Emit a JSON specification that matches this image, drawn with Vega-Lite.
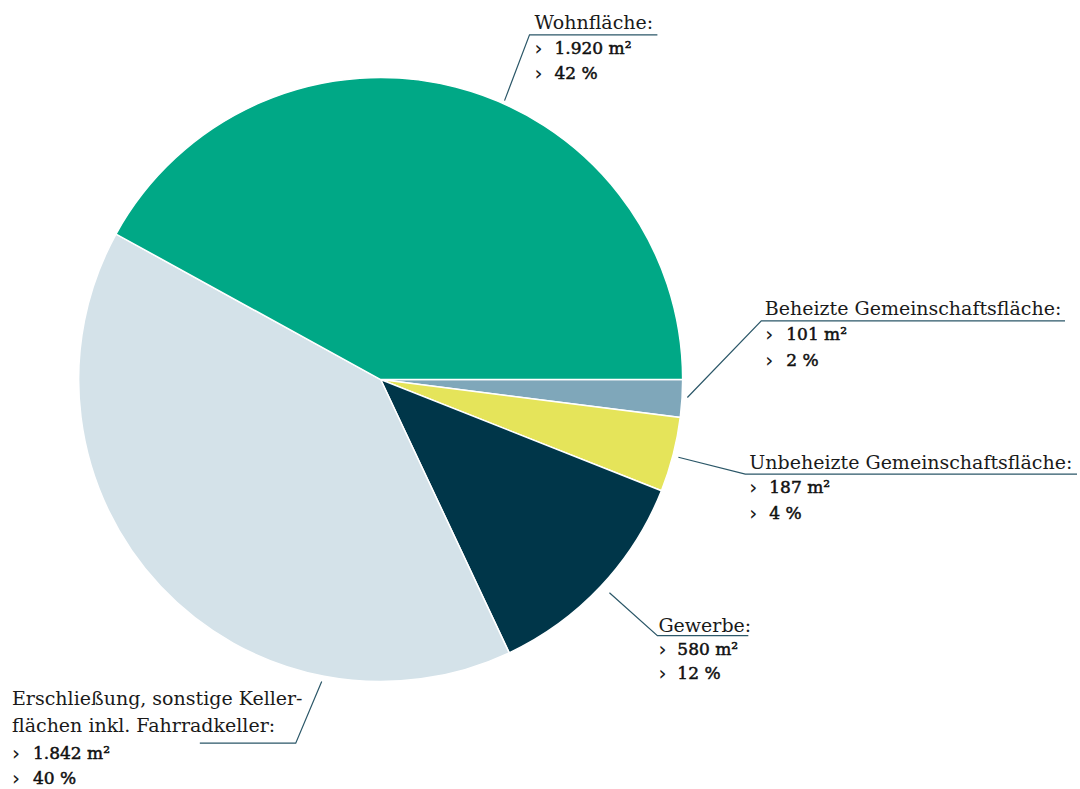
{
  "$schema": "https://vega.github.io/schema/vega-lite/v6.json",
  "width": 1080,
  "height": 789,
  "padding": 0,
  "autosize": {"type": "fit", "contains": "padding"},
  "background": "white",
  "config": {"view": {"stroke": null}},
  "datasets": {
    "slices": [
      {"name": "Beheizte Gemeinschaftsfläche", "area": 101, "pct": 2, "ord": 1},
      {"name": "Unbeheizte Gemeinschaftsfläche", "area": 187, "pct": 4, "ord": 2},
      {"name": "Gewerbe", "area": 580, "pct": 12, "ord": 3},
      {"name": "Erschließung, sonstige Kellerflächen inkl. Fahrradkeller", "area": 1842, "pct": 40, "ord": 4},
      {"name": "Wohnfläche", "area": 1920, "pct": 42, "ord": 5}
    ],
    "leaders": [
      {"name": "W", "step": 1, "x": 124, "y": 280},
      {"name": "W", "step": 2, "x": 149, "y": 346},
      {"name": "W", "step": 3, "x": 277, "y": 346},
      {"name": "B", "step": 1, "x": 307, "y": -18},
      {"name": "B", "step": 2, "x": 381, "y": 59},
      {"name": "B", "step": 3, "x": 685, "y": 59},
      {"name": "U", "step": 1, "x": 298, "y": -78},
      {"name": "U", "step": 2, "x": 365, "y": -95},
      {"name": "U", "step": 3, "x": 697, "y": -95},
      {"name": "G", "step": 1, "x": 229, "y": -214},
      {"name": "G", "step": 2, "x": 277, "y": -257},
      {"name": "G", "step": 3, "x": 368, "y": -257},
      {"name": "E", "step": 1, "x": -59, "y": -303},
      {"name": "E", "step": 2, "x": -85, "y": -365},
      {"name": "E", "step": 3, "x": -181, "y": -365}
    ],
    "titles": [
      {"label": "Wohnfläche:", "x": 154, "y": 351.5},
      {"label": "Beheizte Gemeinschaftsfläche:", "x": 384.5, "y": 65},
      {"label": "Unbeheizte Gemeinschaftsfläche:", "x": 369, "y": -89.5},
      {"label": "Gewerbe:", "x": 278, "y": -253},
      {"label": "Erschließung, sonstige Keller-", "x": -369, "y": -327},
      {"label": "flächen inkl. Fahrradkeller:", "x": -369, "y": -354}
    ],
    "values": [
      {"label": "1.920 m²", "bx": 154, "vx": 174, "y": 332},
      {"label": "42 %", "bx": 154, "vx": 174, "y": 307},
      {"label": "101 m²", "bx": 385, "vx": 406, "y": 45},
      {"label": "2 %", "bx": 385, "vx": 406, "y": 19},
      {"label": "187 m²", "bx": 369, "vx": 389, "y": -109},
      {"label": "4 %", "bx": 369, "vx": 389, "y": -135},
      {"label": "580 m²", "bx": 278, "vx": 297, "y": -271},
      {"label": "12 %", "bx": 278, "vx": 297, "y": -296},
      {"label": "1.842 m²", "bx": -369, "vx": -348, "y": -376},
      {"label": "40 %", "bx": -369, "vx": -348, "y": -401}
    ]
  },
  "layer": [
    {
      "data": {"name": "slices"},
      "mark": {"type": "arc", "outerRadius": 302, "stroke": "white", "strokeWidth": 1.5},
      "encoding": {
        "x": {"datum": 0, "type": "quantitative", "scale": {"domain": [-381, 699], "nice": false, "zero": false}, "axis": null},
        "y": {"datum": 0, "type": "quantitative", "scale": {"domain": [-408, 381], "nice": false, "zero": false}, "axis": null},
        "theta": {"field": "pct", "type": "quantitative", "stack": true, "scale": {"range": [1.5708, 7.854]}},
        "order": {"field": "ord", "type": "quantitative"},
        "color": {
          "field": "name", "type": "nominal", "legend": null,
          "scale": {
            "domain": ["Beheizte Gemeinschaftsfläche", "Unbeheizte Gemeinschaftsfläche", "Gewerbe", "Erschließung, sonstige Kellerflächen inkl. Fahrradkeller", "Wohnfläche"],
            "range": ["#7fa7ba", "#e5e45a", "#003649", "#d4e2e9", "#00a886"]
          }
        }
      }
    },
    {
      "data": {"name": "leaders"},
      "mark": {"type": "line", "color": "#2b5768", "strokeWidth": 1.2},
      "encoding": {
        "x": {"field": "x", "type": "quantitative"},
        "y": {"field": "y", "type": "quantitative"},
        "detail": {"field": "name", "type": "nominal"},
        "order": {"field": "step", "type": "quantitative"}
      }
    },
    {
      "data": {"name": "titles"},
      "mark": {"type": "text", "align": "left", "baseline": "alphabetic", "font": "DejaVu Serif", "fontSize": 19, "color": "#1a1a1a"},
      "encoding": {
        "x": {"field": "x", "type": "quantitative"},
        "y": {"field": "y", "type": "quantitative"},
        "text": {"field": "label"}
      }
    },
    {
      "data": {"name": "values"},
      "mark": {"type": "text", "align": "left", "baseline": "middle", "font": "DejaVu Sans", "fontSize": 20, "color": "#1a1a1a"},
      "encoding": {
        "x": {"field": "bx", "type": "quantitative"},
        "y": {"field": "y", "type": "quantitative"},
        "text": {"value": "›"}
      }
    },
    {
      "data": {"name": "values"},
      "mark": {"type": "text", "align": "left", "baseline": "middle", "font": "DejaVu Serif", "fontSize": 17, "color": "#111111", "stroke": "#111111", "strokeWidth": 0.5},
      "encoding": {
        "x": {"field": "vx", "type": "quantitative"},
        "y": {"field": "y", "type": "quantitative"},
        "text": {"field": "label"}
      }
    }
  ]
}
